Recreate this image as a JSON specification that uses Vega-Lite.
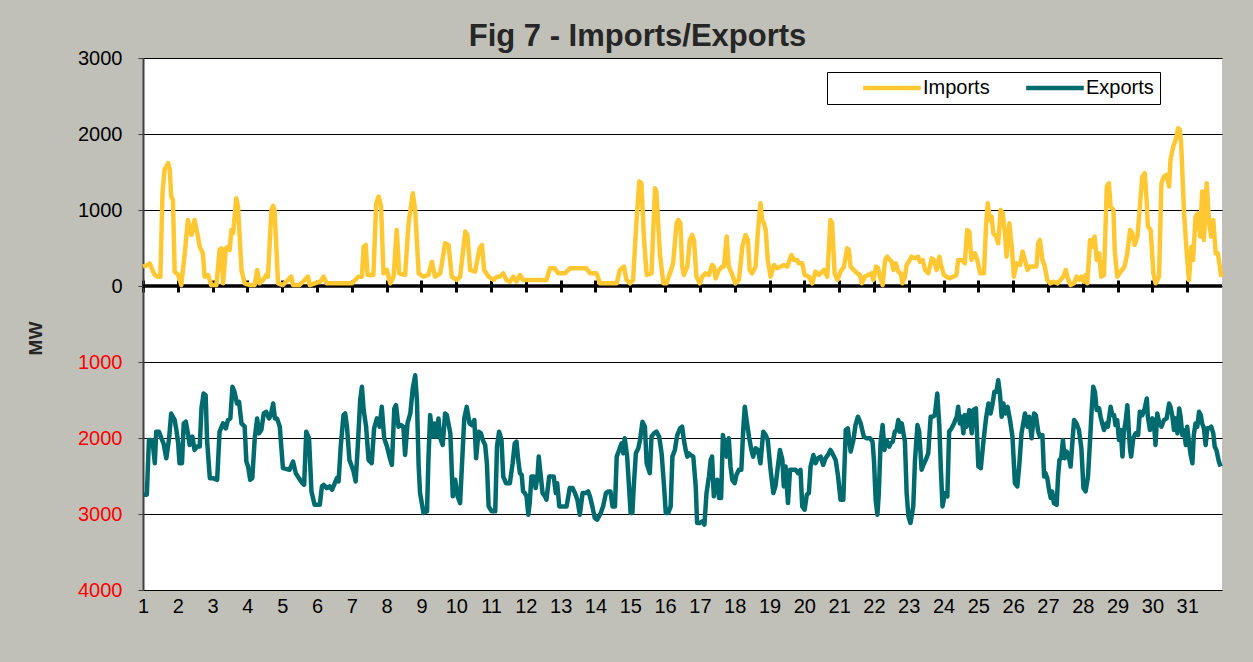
{
"$schema": "https://vega.github.io/schema/vega-lite/v6.json",
"width": 1079, "height": 532,
"autosize": {"type": "none"},
"padding": {"left": 143, "top": 58, "right": 31, "bottom": 72},
"background": "#c0c0b8",
"config": {"view": {"fill": "white", "stroke": null}, "font": "Liberation Sans"},
"title": {"text": "Fig 7 - Imports/Exports", "fontSize": 31, "fontWeight": "bold", "color": "#262626", "anchor": "middle", "dx": -45, "dy": 41, "baseline": "alphabetic", "offset": 12},
"datasets": {
"imp": [
{"d":1.00,"v":255},{"d":1.14,"v":277},{"d":1.19,"v":299},{"d":1.29,"v":189},{"d":1.34,"v":145},{"d":1.43,"v":123},{"d":1.50,"v":123},{"d":1.56,"v":1220},{"d":1.62,"v":1528},{"d":1.72,"v":1616},{"d":1.77,"v":1528},{"d":1.81,"v":1177},{"d":1.86,"v":1133},{"d":1.91,"v":189},{"d":2.01,"v":145},{"d":2.10,"v":13},{"d":2.20,"v":430},{"d":2.29,"v":869},{"d":2.39,"v":672},{"d":2.48,"v":869},{"d":2.58,"v":650},{"d":2.63,"v":518},{"d":2.72,"v":430},{"d":2.77,"v":123},{"d":2.87,"v":145},{"d":2.96,"v":13},{"d":3.11,"v":13},{"d":3.20,"v":474},{"d":3.25,"v":496},{"d":3.30,"v":35},{"d":3.38,"v":496},{"d":3.44,"v":518},{"d":3.49,"v":474},{"d":3.54,"v":738},{"d":3.59,"v":694},{"d":3.68,"v":1155},{"d":3.73,"v":1045},{"d":3.83,"v":211},{"d":3.92,"v":35},{"d":4.07,"v":13},{"d":4.21,"v":13},{"d":4.28,"v":211},{"d":4.35,"v":35},{"d":4.45,"v":79},{"d":4.54,"v":145},{"d":4.59,"v":123},{"d":4.69,"v":1001},{"d":4.74,"v":1054},{"d":4.78,"v":1001},{"d":4.88,"v":35},{"d":5.02,"v":13},{"d":5.26,"v":123},{"d":5.31,"v":13},{"d":5.50,"v":13},{"d":5.74,"v":123},{"d":5.79,"v":13},
{"d":6.09,"v":57},{"d":6.19,"v":123},{"d":6.28,"v":35},{"d":6.76,"v":35},{"d":7.00,"v":35},{"d":7.10,"v":79},{"d":7.19,"v":123},{"d":7.29,"v":123},{"d":7.34,"v":518},{"d":7.40,"v":540},{"d":7.45,"v":145},{"d":7.62,"v":145},{"d":7.70,"v":1089},{"d":7.77,"v":1177},{"d":7.84,"v":1045},{"d":7.91,"v":167},{"d":8.01,"v":211},{"d":8.10,"v":35},{"d":8.20,"v":123},{"d":8.29,"v":738},{"d":8.36,"v":167},{"d":8.53,"v":145},{"d":8.63,"v":825},{"d":8.75,"v":1220},{"d":8.82,"v":1001},{"d":8.92,"v":167},{"d":9.06,"v":123},{"d":9.20,"v":145},{"d":9.30,"v":320},{"d":9.39,"v":123},{"d":9.54,"v":167},{"d":9.68,"v":562},{"d":9.78,"v":540},{"d":9.87,"v":123},{"d":10.02,"v":79},{"d":10.11,"v":123},{"d":10.26,"v":716},{"d":10.32,"v":672},{"d":10.40,"v":211},{"d":10.54,"v":189},{"d":10.67,"v":496},{"d":10.74,"v":540},{"d":10.80,"v":211},{"d":10.93,"v":123},{"d":11.07,"v":79},{"d":11.17,"v":123},
{"d":11.25,"v":123},{"d":11.35,"v":167},{"d":11.44,"v":79},{"d":11.54,"v":57},{"d":11.64,"v":123},{"d":11.73,"v":57},{"d":11.83,"v":145},{"d":11.92,"v":79},{"d":12.02,"v":79},{"d":12.59,"v":79},{"d":12.69,"v":232},{"d":12.83,"v":232},{"d":12.93,"v":167},{"d":13.12,"v":167},{"d":13.26,"v":232},{"d":13.74,"v":232},{"d":13.84,"v":167},{"d":14.03,"v":167},{"d":14.13,"v":35},{"d":14.61,"v":35},{"d":14.70,"v":211},{"d":14.82,"v":255},{"d":14.89,"v":79},{"d":14.99,"v":35},{"d":15.08,"v":79},{"d":15.18,"v":869},{"d":15.26,"v":1374},{"d":15.32,"v":1352},{"d":15.39,"v":650},{"d":15.47,"v":145},{"d":15.61,"v":167},{"d":15.71,"v":1286},{"d":15.75,"v":1242},{"d":15.85,"v":430},{"d":15.95,"v":35},{"d":16.04,"v":35},{"d":16.14,"v":167},{"d":16.23,"v":299},{"d":16.33,"v":825},{"d":16.38,"v":869},
{"d":16.44,"v":825},{"d":16.49,"v":255},{"d":16.54,"v":145},{"d":16.64,"v":255},{"d":16.71,"v":606},{"d":16.78,"v":672},{"d":16.83,"v":606},{"d":16.90,"v":123},{"d":17.00,"v":35},{"d":17.07,"v":123},{"d":17.16,"v":167},{"d":17.26,"v":145},{"d":17.35,"v":277},{"d":17.40,"v":255},{"d":17.45,"v":101},{"d":17.55,"v":211},{"d":17.64,"v":255},{"d":17.69,"v":255},{"d":17.77,"v":650},{"d":17.83,"v":255},{"d":17.93,"v":145},{"d":18.02,"v":35},{"d":18.12,"v":79},{"d":18.22,"v":518},{"d":18.31,"v":672},{"d":18.38,"v":606},{"d":18.43,"v":211},{"d":18.50,"v":167},{"d":18.60,"v":255},{"d":18.67,"v":738},{"d":18.74,"v":1089},{"d":18.79,"v":869},{"d":18.84,"v":825},{"d":18.89,"v":738},{"d":18.95,"v":342},{"d":19.03,"v":123},{"d":19.13,"v":277},{"d":19.22,"v":233},{"d":19.32,"v":255},{"d":19.41,"v":277},{"d":19.51,"v":255},{"d":19.63,"v":408},{"d":19.70,"v":342},{"d":19.80,"v":342},{"d":19.84,"v":299},{"d":19.94,"v":299},{"d":20.01,"v":145},{"d":20.13,"v":123},{"d":20.23,"v":35},{"d":20.32,"v":189},{"d":20.42,"v":145},{"d":20.56,"v":211},{"d":20.66,"v":123},{"d":20.75,"v":869},{"d":20.80,"v":825},{"d":20.87,"v":167},{"d":20.95,"v":79},{"d":21.04,"v":189},{"d":21.14,"v":255},{"d":21.23,"v":496},{"d":21.28,"v":474},{"d":21.33,"v":255},{"d":21.42,"v":211},{"d":21.52,"v":167},
{"d":21.60,"v":145},{"d":21.65,"v":35},{"d":21.74,"v":123},{"d":21.84,"v":145},{"d":21.93,"v":167},{"d":21.98,"v":79},{"d":22.06,"v":255},{"d":22.12,"v":233},{"d":22.17,"v":123},{"d":22.25,"v":13},{"d":22.32,"v":342},{"d":22.38,"v":386},{"d":22.46,"v":342},{"d":22.51,"v":320},{"d":22.56,"v":211},{"d":22.63,"v":299},{"d":22.70,"v":189},{"d":22.77,"v":167},{"d":22.82,"v":35},{"d":22.89,"v":123},{"d":22.94,"v":277},{"d":23.03,"v":342},{"d":23.08,"v":386},{"d":23.18,"v":364},{"d":23.27,"v":386},{"d":23.32,"v":320},{"d":23.40,"v":342},{"d":23.47,"v":211},{"d":23.56,"v":167},{"d":23.66,"v":364},{"d":23.72,"v":342},{"d":23.80,"v":211},{"d":23.88,"v":386},{"d":23.94,"v":255},{"d":24.01,"v":145},{"d":24.08,"v":123},{"d":24.18,"v":101},{"d":24.28,"v":123},{"d":24.37,"v":145},{"d":24.42,"v":342},{"d":24.52,"v":342},{"d":24.61,"v":299},{"d":24.68,"v":738},{"d":24.74,"v":716},{"d":24.80,"v":342},{"d":24.90,"v":430},{"d":24.97,"v":342},{"d":25.05,"v":167},{"d":25.16,"v":167},{"d":25.22,"v":781},{"d":25.27,"v":1089},{"d":25.33,"v":869},{"d":25.38,"v":913},{"d":25.43,"v":694},{"d":25.51,"v":650},{"d":25.57,"v":562},{"d":25.64,"v":1001},{"d":25.70,"v":957},{"d":25.77,"v":650},{"d":25.81,"v":386},{"d":25.89,"v":825},{"d":25.96,"v":518},{"d":26.02,"v":123},{"d":26.10,"v":299},{"d":26.20,"v":277},{"d":26.27,"v":452},{"d":26.34,"v":342},{"d":26.41,"v":211},{"d":26.48,"v":255},{"d":26.57,"v":255},{"d":26.67,"v":255},{"d":26.72,"v":562},{"d":26.77,"v":606},{"d":26.84,"v":342},{"d":26.90,"v":277},
{"d":26.98,"v":79},{"d":27.06,"v":35},{"d":27.17,"v":57},{"d":27.27,"v":35},{"d":27.36,"v":79},{"d":27.44,"v":123},{"d":27.51,"v":211},{"d":27.57,"v":101},{"d":27.65,"v":13},{"d":27.75,"v":35},{"d":27.82,"v":123},{"d":27.89,"v":79},{"d":27.96,"v":123},{"d":28.03,"v":57},{"d":28.08,"v":145},{"d":28.13,"v":35},{"d":28.21,"v":606},{"d":28.27,"v":518},{"d":28.34,"v":650},{"d":28.40,"v":342},{"d":28.47,"v":430},{"d":28.53,"v":123},{"d":28.61,"v":145},{"d":28.69,"v":1308},{"d":28.75,"v":1352},{"d":28.80,"v":1045},{"d":28.88,"v":1001},{"d":28.92,"v":452},{"d":28.99,"v":123},{"d":29.09,"v":189},{"d":29.20,"v":255},{"d":29.28,"v":430},{"d":29.36,"v":738},{"d":29.42,"v":694},{"d":29.49,"v":540},{"d":29.57,"v":650},{"d":29.64,"v":1045},{"d":29.71,"v":1440},{"d":29.78,"v":1484},{"d":29.84,"v":1089},{"d":29.87,"v":781},{"d":29.95,"v":738},{"d":30.03,"v":167},{"d":30.09,"v":35},{"d":30.19,"v":123},{"d":30.26,"v":1352},{"d":30.33,"v":1440},{"d":30.41,"v":1462},{"d":30.48,"v":1308},{"d":30.52,"v":1659},{"d":30.60,"v":1835},{"d":30.67,"v":1923},{"d":30.74,"v":2076},{"d":30.79,"v":2054},{"d":30.83,"v":1835},{"d":30.91,"v":957},{"d":30.98,"v":474},{"d":31.05,"v":79},{"d":31.12,"v":518},{"d":31.17,"v":342},{"d":31.24,"v":913},{"d":31.31,"v":957},{"d":31.37,"v":650},{"d":31.43,"v":1242},{"d":31.48,"v":606},{"d":31.56,"v":1352},{"d":31.63,"v":825},{"d":31.69,"v":650},{"d":31.75,"v":869},{"d":31.82,"v":430},{"d":31.88,"v":430},{"d":31.98,"v":120}
],
"exp": [
{"d":1.02,"v":-2747},{"d":1.11,"v":-2747},{"d":1.17,"v":-2026},{"d":1.24,"v":-2026},{"d":1.29,"v":-2113},{"d":1.34,"v":-2332},{"d":1.38,"v":-1917},{"d":1.46,"v":-1917},{"d":1.53,"v":-2004},{"d":1.59,"v":-2070},{"d":1.67,"v":-2266},{"d":1.75,"v":-2004},{"d":1.81,"v":-1677},{"d":1.91,"v":-1764},{"d":1.96,"v":-1895},{"d":2.01,"v":-2070},{"d":2.05,"v":-2332},{"d":2.12,"v":-2332},{"d":2.17,"v":-1808},{"d":2.23,"v":-1786},{"d":2.29,"v":-1939},{"d":2.34,"v":-2092},{"d":2.42,"v":-1982},{"d":2.48,"v":-2157},{"d":2.55,"v":-2113},{"d":2.63,"v":-2113},{"d":2.68,"v":-1611},{"d":2.74,"v":-1415},{"d":2.80,"v":-1437},{"d":2.84,"v":-2026},{"d":2.92,"v":-2528},{"d":3.01,"v":-2528},{"d":3.13,"v":-2550},{"d":3.20,"v":-1917},{"d":3.30,"v":-1808},{"d":3.38,"v":-1873},{"d":3.44,"v":-1764},{"d":3.51,"v":-1742},{"d":3.57,"v":-1327},{"d":3.63,"v":-1393},{"d":3.70,"v":-1546},{"d":3.76,"v":-1524},{"d":3.83,"v":-1808},{"d":3.92,"v":-1851},{"d":3.97,"v":-2310},{"d":4.02,"v":-2375},{"d":4.08,"v":-2550},{"d":4.14,"v":-2528},{"d":4.21,"v":-2004},{"d":4.28,"v":-1742},{"d":4.33,"v":-1939},{"d":4.40,"v":-1895},{"d":4.47,"v":-1677},{"d":4.54,"v":-1655},{"d":4.62,"v":-1742},{"d":4.67,"v":-1699},{"d":4.74,"v":-1546},{"d":4.79,"v":-1742},{"d":4.85,"v":-1742},{"d":4.93,"v":-1851},{"d":5.02,"v":-2397},{"d":5.21,"v":-2419},{"d":5.31,"v":-2310},{"d":5.39,"v":-2463},{"d":5.48,"v":-2528},{"d":5.58,"v":-2594},{"d":5.63,"v":-2616},{"d":5.69,"v":-1917},{"d":5.77,"v":-2004},{"d":5.84,"v":-2703},{"d":5.93,"v":-2878},{"d":6.08,"v":-2878},
{"d":6.14,"v":-2637},{"d":6.19,"v":-2616},{"d":6.28,"v":-2659},{"d":6.36,"v":-2637},{"d":6.43,"v":-2681},{"d":6.49,"v":-2616},{"d":6.57,"v":-2528},{"d":6.62,"v":-2572},{"d":6.68,"v":-2113},{"d":6.76,"v":-1699},{"d":6.81,"v":-1677},{"d":6.86,"v":-1851},{"d":6.93,"v":-2288},{"d":7.00,"v":-2375},{"d":7.05,"v":-2441},{"d":7.11,"v":-2572},{"d":7.17,"v":-2113},{"d":7.24,"v":-1502},{"d":7.29,"v":-1327},{"d":7.34,"v":-1633},{"d":7.41,"v":-1851},{"d":7.48,"v":-2288},{"d":7.57,"v":-2332},{"d":7.64,"v":-1873},{"d":7.72,"v":-1742},{"d":7.80,"v":-1851},{"d":7.86,"v":-1590},{"d":7.93,"v":-2004},{"d":8.01,"v":-2113},{"d":8.08,"v":-2244},{"d":8.15,"v":-2354},{"d":8.22,"v":-1611},{"d":8.27,"v":-1568},{"d":8.34,"v":-1851},{"d":8.41,"v":-1830},{"d":8.48,"v":-1851},{"d":8.53,"v":-2223},{"d":8.60,"v":-1808},{"d":8.68,"v":-1677},{"d":8.75,"v":-1349},{"d":8.82,"v":-1175},{"d":8.87,"v":-1502},{"d":8.92,"v":-2375},{"d":8.96,"v":-2725},{"d":9.06,"v":-2987},{"d":9.16,"v":-2965},{"d":9.20,"v":-2288},{"d":9.25,"v":-1699},{"d":9.32,"v":-1982},{"d":9.37,"v":-1808},{"d":9.42,"v":-1982},{"d":9.49,"v":-1742},{"d":9.54,"v":-2004},{"d":9.61,"v":-2092},{"d":9.68,"v":-1677},{"d":9.73,"v":-1699},{"d":9.83,"v":-1939},{"d":9.90,"v":-2768},{"d":9.97,"v":-2550},{"d":10.04,"v":-2768},{"d":10.11,"v":-2856},{"d":10.19,"v":-2113},{"d":10.23,"v":-1742},{"d":10.30,"v":-1590},{"d":10.38,"v":-1808},{"d":10.45,"v":-1830},{"d":10.52,"v":-1764},{"d":10.57,"v":-2266},{"d":10.64,"v":-1917},{"d":10.71,"v":-1939},{"d":10.76,"v":-2026},{"d":10.83,"v":-2092},{"d":10.88,"v":-2332},{"d":10.93,"v":-2900},{"d":11.02,"v":-2965},{"d":11.12,"v":-2965},{"d":11.17,"v":-2113},{"d":11.23,"v":-1917},
{"d":11.30,"v":-2026},{"d":11.35,"v":-2507},{"d":11.43,"v":-2594},{"d":11.54,"v":-2594},{"d":11.62,"v":-2332},{"d":11.68,"v":-2070},{"d":11.73,"v":-2048},{"d":11.78,"v":-2288},{"d":11.83,"v":-2463},{"d":11.88,"v":-2485},{"d":11.92,"v":-2703},{"d":11.97,"v":-2725},{"d":12.02,"v":-2768},{"d":12.07,"v":-3009},{"d":12.11,"v":-2856},{"d":12.16,"v":-2507},{"d":12.23,"v":-2507},{"d":12.28,"v":-2659},{"d":12.33,"v":-2528},{"d":12.37,"v":-2245},{"d":12.42,"v":-2463},{"d":12.48,"v":-2725},{"d":12.55,"v":-2768},{"d":12.59,"v":-2812},{"d":12.67,"v":-2507},{"d":12.74,"v":-2507},{"d":12.80,"v":-2507},{"d":12.86,"v":-2725},{"d":12.90,"v":-2594},{"d":12.96,"v":-2900},{"d":13.02,"v":-2900},{"d":13.17,"v":-2900},{"d":13.26,"v":-2659},{"d":13.34,"v":-2659},{"d":13.41,"v":-2725},{"d":13.48,"v":-2812},{"d":13.55,"v":-3009},{"d":13.63,"v":-2725},{"d":13.72,"v":-2725},{"d":13.79,"v":-2703},{"d":13.84,"v":-2768},{"d":13.91,"v":-2900},{"d":13.98,"v":-3052},{"d":14.05,"v":-3074},{"d":14.15,"v":-2987},{"d":14.22,"v":-2900},{"d":14.30,"v":-2725},{"d":14.37,"v":-2703},{"d":14.43,"v":-2703},{"d":14.49,"v":-2900},{"d":14.56,"v":-2900},{"d":14.61,"v":-2245},{"d":14.68,"v":-2157},{"d":14.75,"v":-2070},{"d":14.80,"v":-2201},{"d":14.84,"v":-2004},{"d":14.91,"v":-2245},{"d":15.01,"v":-2987},{"d":15.06,"v":-2987},{"d":15.10,"v":-2637},{"d":15.16,"v":-2201},{"d":15.23,"v":-2135},{"d":15.28,"v":-2026},{"d":15.35,"v":-1786},{"d":15.42,"v":-1851},{"d":15.47,"v":-2332},{"d":15.56,"v":-2463},{"d":15.61,"v":-1982},{"d":15.68,"v":-1939},{"d":15.75,"v":-1917},{"d":15.83,"v":-1982},{"d":15.90,"v":-2201},{"d":15.97,"v":-2637},{"d":16.02,"v":-2987},{"d":16.09,"v":-2987},{"d":16.16,"v":-2900},{"d":16.21,"v":-2245},{"d":16.28,"v":-2157},{"d":16.35,"v":-1961},{"d":16.43,"v":-1873},
{"d":16.49,"v":-1851},{"d":16.54,"v":-2026},{"d":16.59,"v":-2157},{"d":16.64,"v":-2245},{"d":16.68,"v":-2201},{"d":16.73,"v":-2223},{"d":16.81,"v":-2245},{"d":16.88,"v":-2637},{"d":16.92,"v":-3118},{"d":17.00,"v":-3118},{"d":17.07,"v":-3096},{"d":17.13,"v":-3140},{"d":17.19,"v":-2725},{"d":17.26,"v":-2507},{"d":17.31,"v":-2288},{"d":17.35,"v":-2245},{"d":17.40,"v":-2768},{"d":17.45,"v":-2594},{"d":17.50,"v":-2550},{"d":17.55,"v":-2790},{"d":17.61,"v":-2790},{"d":17.66,"v":-1961},{"d":17.71,"v":-2070},{"d":17.77,"v":-2245},{"d":17.83,"v":-2004},{"d":17.88,"v":-2375},{"d":17.93,"v":-2550},{"d":18.00,"v":-2594},{"d":18.05,"v":-2485},{"d":18.12,"v":-2419},{"d":18.19,"v":-2419},{"d":18.25,"v":-1851},{"d":18.29,"v":-1590},{"d":18.34,"v":-1764},{"d":18.41,"v":-1982},{"d":18.48,"v":-2157},{"d":18.53,"v":-2245},{"d":18.60,"v":-2135},{"d":18.67,"v":-2157},{"d":18.74,"v":-2332},{"d":18.82,"v":-1917},{"d":18.89,"v":-1961},{"d":18.95,"v":-2026},{"d":19.03,"v":-2419},{"d":19.11,"v":-2725},{"d":19.17,"v":-2637},{"d":19.24,"v":-2375},{"d":19.30,"v":-2157},{"d":19.37,"v":-2288},{"d":19.41,"v":-2637},{"d":19.46,"v":-2375},{"d":19.53,"v":-2856},{"d":19.59,"v":-2419},{"d":19.65,"v":-2419},{"d":19.75,"v":-2419},{"d":19.82,"v":-2463},{"d":19.89,"v":-2419},{"d":19.94,"v":-2900},{"d":20.01,"v":-2943},{"d":20.07,"v":-2747},{"d":20.13,"v":-2725},{"d":20.18,"v":-2375},{"d":20.26,"v":-2223},{"d":20.32,"v":-2332},{"d":20.39,"v":-2266},{"d":20.47,"v":-2245},{"d":20.54,"v":-2354},{"d":20.61,"v":-2266},{"d":20.68,"v":-2223},{"d":20.75,"v":-2157},{"d":20.83,"v":-2223},{"d":20.90,"v":-2288},{"d":20.97,"v":-2507},{"d":21.04,"v":-2812},{"d":21.12,"v":-2812},{"d":21.19,"v":-1895},{"d":21.25,"v":-1873},{"d":21.33,"v":-2179},{"d":21.41,"v":-2026},{"d":21.47,"v":-1830},{"d":21.54,"v":-1720},{"d":21.62,"v":-1808},
{"d":21.71,"v":-1982},{"d":21.79,"v":-2004},{"d":21.89,"v":-2004},{"d":21.96,"v":-2048},{"d":22.00,"v":-2288},{"d":22.05,"v":-2812},{"d":22.10,"v":-3009},{"d":22.14,"v":-2725},{"d":22.19,"v":-2070},{"d":22.25,"v":-1830},{"d":22.30,"v":-2157},{"d":22.36,"v":-2026},{"d":22.44,"v":-2113},{"d":22.48,"v":-2070},{"d":22.54,"v":-2048},{"d":22.60,"v":-1917},{"d":22.65,"v":-1895},{"d":22.70,"v":-1764},{"d":22.74,"v":-1917},{"d":22.80,"v":-1808},{"d":22.84,"v":-1917},{"d":22.89,"v":-2048},{"d":22.94,"v":-2725},{"d":22.99,"v":-3030},{"d":23.05,"v":-3118},{"d":23.13,"v":-2900},{"d":23.18,"v":-2288},{"d":23.25,"v":-1830},{"d":23.30,"v":-1917},{"d":23.37,"v":-2419},{"d":23.42,"v":-2354},{"d":23.49,"v":-2288},{"d":23.56,"v":-2201},{"d":23.63,"v":-1720},{"d":23.69,"v":-1720},{"d":23.75,"v":-1699},{"d":23.82,"v":-1415},{"d":23.88,"v":-1851},{"d":23.92,"v":-2375},{"d":23.97,"v":-2900},{"d":24.04,"v":-2725},{"d":24.11,"v":-2768},{"d":24.16,"v":-1917},{"d":24.23,"v":-1873},{"d":24.30,"v":-1808},{"d":24.38,"v":-1720},{"d":24.42,"v":-1590},{"d":24.47,"v":-1808},{"d":24.52,"v":-1720},{"d":24.57,"v":-1939},{"d":24.61,"v":-1699},{"d":24.66,"v":-1851},{"d":24.74,"v":-1633},{"d":24.81,"v":-1939},{"d":24.85,"v":-1633},{"d":24.93,"v":-1611},{"d":25.00,"v":-2375},{"d":25.07,"v":-2397},{"d":25.14,"v":-2070},{"d":25.22,"v":-1742},{"d":25.29,"v":-1546},{"d":25.35,"v":-1677},{"d":25.41,"v":-1546},{"d":25.46,"v":-1393},{"d":25.52,"v":-1393},{"d":25.57,"v":-1240},{"d":25.62,"v":-1415},{"d":25.67,"v":-1720},{"d":25.72,"v":-1546},{"d":25.78,"v":-1677},{"d":25.84,"v":-1590},{"d":25.91,"v":-1764},{"d":25.98,"v":-1982},{"d":26.05,"v":-2594},{"d":26.12,"v":-2638},{"d":26.18,"v":-2332},{"d":26.24,"v":-1939},{"d":26.29,"v":-1808},{"d":26.34,"v":-1677},{"d":26.41,"v":-1851},{"d":26.46,"v":-1720},{"d":26.53,"v":-2004},{"d":26.60,"v":-1677},{"d":26.65,"v":-1699},{"d":26.72,"v":-1917},{"d":26.77,"v":-1982},
{"d":26.84,"v":-1961},{"d":26.89,"v":-2507},{"d":26.93,"v":-2463},{"d":26.98,"v":-2528},{"d":27.03,"v":-2681},{"d":27.08,"v":-2790},{"d":27.12,"v":-2703},{"d":27.17,"v":-2856},{"d":27.25,"v":-2878},{"d":27.29,"v":-2507},{"d":27.33,"v":-2288},{"d":27.38,"v":-2266},{"d":27.43,"v":-2026},{"d":27.48,"v":-2266},{"d":27.54,"v":-2179},{"d":27.60,"v":-2244},{"d":27.65,"v":-2375},{"d":27.70,"v":-2070},{"d":27.75,"v":-1764},{"d":27.82,"v":-1808},{"d":27.89,"v":-1895},{"d":27.96,"v":-2135},{"d":28.02,"v":-2659},{"d":28.08,"v":-2703},{"d":28.15,"v":-2507},{"d":28.21,"v":-2026},{"d":28.25,"v":-1677},{"d":28.30,"v":-1327},{"d":28.35,"v":-1393},{"d":28.40,"v":-1633},{"d":28.47,"v":-1611},{"d":28.51,"v":-1720},{"d":28.56,"v":-1808},{"d":28.61,"v":-1895},{"d":28.68,"v":-1808},{"d":28.72,"v":-1851},{"d":28.80,"v":-1590},{"d":28.85,"v":-1699},{"d":28.90,"v":-1699},{"d":28.94,"v":-1830},{"d":28.99,"v":-1764},{"d":29.04,"v":-2026},{"d":29.09,"v":-1895},{"d":29.14,"v":-2244},{"d":29.18,"v":-1917},{"d":29.23,"v":-1786},{"d":29.28,"v":-1568},{"d":29.33,"v":-1961},{"d":29.36,"v":-2157},{"d":29.39,"v":-2244},{"d":29.45,"v":-2004},{"d":29.52,"v":-1939},{"d":29.59,"v":-1961},{"d":29.64,"v":-1655},{"d":29.71,"v":-1699},{"d":29.78,"v":-1611},{"d":29.84,"v":-1480},{"d":29.87,"v":-1720},{"d":29.93,"v":-1895},{"d":30.00,"v":-1742},{"d":30.05,"v":-1830},{"d":30.09,"v":-2092},{"d":30.14,"v":-1677},{"d":30.19,"v":-1786},{"d":30.26,"v":-1851},{"d":30.33,"v":-1764},{"d":30.41,"v":-1742},{"d":30.48,"v":-1546},{"d":30.52,"v":-1590},{"d":30.57,"v":-1699},{"d":30.62,"v":-1895},{"d":30.67,"v":-1742},{"d":30.72,"v":-1939},{"d":30.77,"v":-1611},{"d":30.81,"v":-1720},{"d":30.86,"v":-1961},{"d":30.91,"v":-1895},{"d":30.96,"v":-2092},{"d":31.00,"v":-1851},{"d":31.05,"v":-2048},{"d":31.10,"v":-2223},{"d":31.15,"v":-2332},{"d":31.19,"v":-1961},{"d":31.24,"v":-1808},{"d":31.29,"v":-1851},{"d":31.34,"v":-1655},{"d":31.39,"v":-1699},{"d":31.43,"v":-1808},{"d":31.48,"v":-1873},{"d":31.53,"v":-2092},{"d":31.58,"v":-1873},{"d":31.63,"v":-1873},{"d":31.69,"v":-1851},{"d":31.75,"v":-1939},{"d":31.79,"v":-2113},{"d":31.84,"v":-2157},{"d":31.91,"v":-2310},{"d":31.96,"v":-2375}
]
},
"layer": [
{
"data": {"values": [{}]},
"mark": {"type": "rule", "color": "black", "strokeWidth": 3.5},
"encoding": {"y": {"datum": 0, "type": "quantitative"}}
},
{
"data": {"name": "imp"},
"mark": {"type": "line", "strokeWidth": 4.5, "strokeJoin": "round"},
"encoding": {
"x": {"field": "d", "type": "quantitative", "scale": {"domain": [1, 32], "nice": false, "zero": false},
"axis": {"orient": "top", "offset": -234, "values": [1,2,3,4,5,6,7,8,9,10,11,12,13,14,15,16,17,18,19,20,21,22,23,24,25,26,27,28,29,30,31], "labels": false, "domain": false, "grid": false, "ticks": true, "tickColor": "black", "tickWidth": 3, "tickSize": 12, "title": null}},
"y": {"field": "v", "type": "quantitative", "scale": {"domain": [-4000, 3000], "nice": false, "zero": false},
"axis": {"values": [-4000,-3000,-2000,-1000,0,1000,2000,3000], "labelExpr": "abs(datum.value)", "labelColor": {"condition": {"test": "datum.value < 0", "value": "#ff0000"}, "value": "black"}, "labelFontSize": 20, "labelPadding": 16, "labelFlush": false, "labelOverlap": false, "grid": true, "gridColor": "black", "gridWidth": 1, "gridOpacity": 1, "domainColor": "#404040", "domainWidth": 2, "tickColor": "#404040", "tickSize": 5, "title": "MW", "titleFontSize": 19, "titleFontWeight": "bold", "titleColor": "#262626", "titleX": -98, "titleY": 280}},
"color": {"datum": "Imports", "type": "nominal", "scale": {"domain": ["Imports", "Exports"], "range": ["#ffc832", "#006b6f"]},
"legend": {"orient": "none", "legendX": 684, "legendY": 14, "direction": "horizontal", "title": null, "fillColor": "white", "strokeColor": "black", "padding": 6, "symbolType": "M-4.8,0H4.8", "symbolSize": 144, "symbolStrokeWidth": 4.5, "labelFontSize": 20, "labelColor": "black", "columnPadding": 6, "labelOffset": 21, "symbolOffset": 49}}
}
},
{
"data": {"name": "exp"},
"mark": {"type": "line", "strokeWidth": 4.5, "strokeJoin": "round"},
"encoding": {
"x": {"field": "d", "type": "quantitative",
"axis": {"orient": "bottom", "values": [1,2,3,4,5,6,7,8,9,10,11,12,13,14,15,16,17,18,19,20,21,22,23,24,25,26,27,28,29,30,31], "labelFontSize": 20, "labelColor": "black", "labelPadding": 6, "labelFlush": false, "labelOverlap": false, "labelBound": false, "ticks": false, "domain": false, "grid": false, "title": null}},
"y": {"field": "v", "type": "quantitative"},
"color": {"datum": "Exports", "type": "nominal"}
}
}
]
}
